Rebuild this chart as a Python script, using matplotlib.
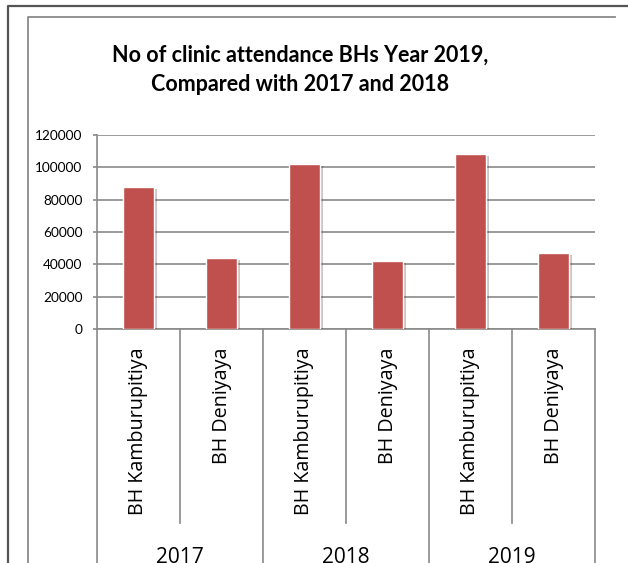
import matplotlib
matplotlib.use("Agg")
import matplotlib.pyplot as plt
import matplotlib.patheffects as pe
from matplotlib.lines import Line2D
from matplotlib.transforms import blended_transform_factory

# ---- data ----
years = ["2017", "2018", "2019"]
hospitals = ["BH Kamburupitiya", "BH Deniyaya"]
values_2017 = [88000, 44000]
values_2018 = [102000, 42000]
values_2019 = [108000, 47000]
y_ticks = [0, 20000, 40000, 60000, 80000, 100000, 120000]
title = "No of clinic attendance BHs Year 2019,\nCompared with 2017 and 2018"

values = values_2017 + values_2018 + values_2019
labels = hospitals * len(years)

W, H = 628, 563
fig = plt.figure(figsize=(W / 100, H / 100), dpi=100)
fig.patch.set_facecolor("white")

def fx(px):
    return px / W

def fy(py):
    return 1 - py / H

# outer and inner frames
fig.add_artist(Line2D([fx(7.5), fx(7.5), fx(628)], [fy(563), fy(5.5), fy(5.5)],
                      color="#555555", lw=1.6, transform=fig.transFigure))
fig.add_artist(Line2D([fx(28), fx(28), fx(615)], [fy(563), fy(17), fy(17)],
                      color="#8a8a8a", lw=1.3, transform=fig.transFigure))

# title
fig.text(fx(300), fy(70), title, ha="center", va="center", fontsize=15.5,
         fontweight="bold", family="Lato", linespacing=1.45, color="black")

# plot area
left, right, top, bottom = 97, 595, 135, 329
ax = fig.add_axes([fx(left), fy(bottom), fx(right - left), (bottom - top) / H])
x = list(range(len(values)))
bars = ax.bar(x, values, width=0.385, color="#C0504D", edgecolor="white",
              linewidth=1.0, zorder=3)
for b in bars:
    b.set_path_effects([pe.SimplePatchShadow(offset=(1.5, -1.5), alpha=0.25), pe.Normal()])

ax.set_xlim(-0.5, len(values) - 0.5)
ax.set_ylim(0, 120000)
ax.set_yticks(y_ticks)
ax.set_yticklabels([str(v) for v in y_ticks], family="Lato", fontsize=9.8)
ax.yaxis.grid(True, color="#8a8a8a", lw=1.2, zorder=0)
ax.set_axisbelow(True)
for s in ["top", "right", "bottom"]:
    ax.spines[s].set_visible(False)
ax.spines["left"].set_color("#8a8a8a")
ax.spines["left"].set_linewidth(1.2)
ax.tick_params(axis="y", length=3, width=1.2, color="#8a8a8a", pad=7.5)
ax.tick_params(axis="x", length=0, pad=13)
ax.set_xticks(x)
ax.set_xticklabels(labels, rotation=90, va="top", ha="center",
                   family="Open Sans", fontsize=14.2)

# category separators
trans = blended_transform_factory(ax.transData, fig.transFigure)
n = len(values)
for i in range(n + 1):
    xb = i - 0.5
    y_end = fy(563) if i % 2 == 0 else fy(523)
    ax.add_artist(Line2D([xb, xb], [fy(bottom), y_end], color="#8a8a8a", lw=1.2,
                         transform=trans, clip_on=False))
ax.add_artist(Line2D([-0.5, n - 0.5], [fy(bottom), fy(bottom)], color="#8a8a8a",
                     lw=1.2, transform=trans, clip_on=False))

# year labels
for j, yr in enumerate(years):
    ax.text(2 * j + 0.5, fy(547), yr, transform=trans, ha="center", va="top",
            family="Open Sans", fontsize=15, clip_on=False)

fig.savefig("out.png", dpi=100, facecolor="white")
